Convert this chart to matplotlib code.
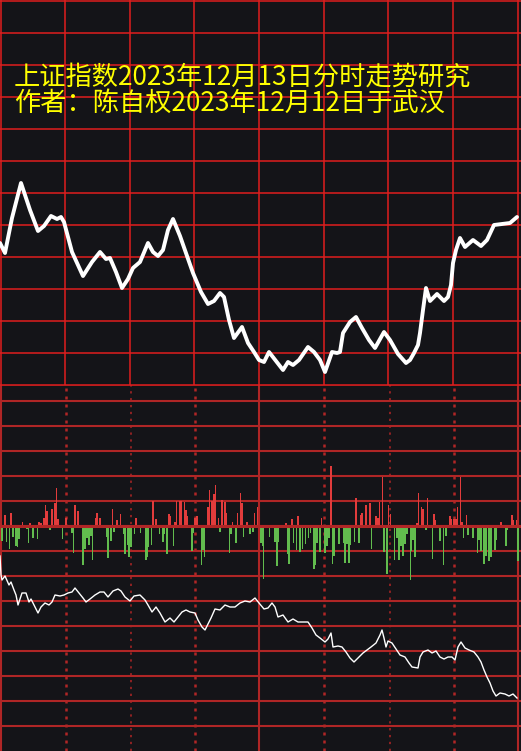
import matplotlib
matplotlib.use("Agg")
import matplotlib.pyplot as plt
import numpy as np

# values (x = time position, y = screen height units, top-down)
TITLE_1 = "上证指数2023年12月13日分时走势研究"
TITLE_2 = "作者：陈自权2023年12月12日于武汉"

PRICE_X = [0, 5, 12, 21, 30, 38, 44, 51, 57, 61, 64, 72, 83, 92, 100, 106, 110, 116,
           122, 128, 133, 140, 148, 153, 158, 163, 168, 173, 180, 193, 201, 208, 214,
           220, 224, 229, 234, 242, 248, 254, 259, 264, 269, 276, 283, 288, 293, 299,
           308, 314, 320, 325, 332, 337, 340, 343, 350, 356, 362, 369, 375, 384, 390,
           398, 406, 410, 414, 418, 420, 423, 426, 430, 437, 444, 448, 451, 453, 456,
           460, 465, 473, 481, 487, 494, 502, 510, 517]
PRICE_Y = [243, 253, 218, 183, 210, 231, 226, 216, 219, 217, 222, 252, 276, 262, 252,
           259, 258, 272, 288, 279, 268, 262, 243, 252, 256, 250, 230, 219, 236, 273,
           292, 304, 301, 293, 297, 320, 338, 327, 343, 352, 360, 362, 352, 361, 370,
           362, 365, 360, 347, 352, 360, 372, 352, 353, 352, 333, 322, 317, 328, 340,
           348, 332, 340, 354, 363, 360, 353, 345, 333, 310, 288, 301, 294, 301, 297,
           285, 263, 250, 238, 247, 240, 246, 240, 225, 224, 223, 217]

UP_X = [5, 11, 22.5, 30, 39, 41, 44, 45.5, 47, 52, 55, 56.5, 58, 66, 75, 78, 96, 97,
        100, 112.5, 117, 120.5, 136, 153, 156, 169, 170.5, 175, 176.5, 180, 181.5,
        184.5, 186, 187, 195, 197, 208, 209.5, 212, 214, 215.5, 218.5, 222, 225, 226.5,
        232.5, 237.5, 240.5, 242, 247, 254.5, 257.5, 286, 292, 298, 321.5, 331, 356,
        361, 362, 366, 370, 376, 378, 379.5, 382.5, 388.5, 390.5, 417, 418.5, 421.5,
        423, 427.5, 434, 435, 450, 451, 454, 456, 457.5, 460.5, 462, 466.5, 501, 512,
        513.5, 516.5]
UP_V = [10, 12, 3, 2, 3, 2, 7, 20, 14, 16, 22, 37, 6, 7, 20, 14, 7, 12, 7, 16, 5, 11,
        7, 24, 6, 11, 9, 3, 24, 24, 24, 23, 15, 9, 7, 9, 18, 35, 24, 31, 40, 7, 25, 23,
        12, 3, 12, 32, 22, 3, 12, 18, 2, 6, 9, 7, 59, 27, 10, 12, 20, 22, 9, 7, 23, 48,
        20, 11, 2, 32, 18, 16, 27, 11, 5, 9, 6, 6, 6, 18, 48, 3, 10, 3, 10, 5, 5]

DOWN_X = [2, 6.5, 9.5, 13, 16, 17.5, 19, 27, 28.5, 33, 37.5, 50, 62.5, 72, 73.5, 83,
          85, 87, 89, 91, 92.5, 107, 108, 111, 114, 124, 125, 128, 129, 131, 134.5,
          140.5, 146, 147, 148, 151.5, 159.5, 163, 164, 167, 173.5, 192, 193.5, 201.5,
          203, 204.5, 220, 229.5, 231, 236, 243.5, 250, 253, 261, 263, 263.5, 269.5,
          275, 277, 278.5, 288, 289, 293.5, 296.5, 300, 302.5, 305.5, 308.5, 310.5, 314,
          315.5, 317, 320, 325, 327, 329, 332.5, 334, 339, 344, 345, 347, 349, 350.5,
          354.5, 359, 371.5, 384, 387, 394.5, 397, 399, 401, 403, 405, 407, 410.5, 411,
          413, 415, 426, 432.5, 440, 443.5, 446, 463.5, 468, 473, 477.5, 479, 481, 484,
          486, 489, 491, 495, 496, 506, 507, 518]
DOWN_V = [14, 15, 22, 10, 19, 20, 12, 2, 16, 11, 12, 3, 12, 6, 26, 38, 22, 11, 18, 9,
          33, 10, 31, 14, 5, 7, 27, 18, 30, 20, 7, 6, 33, 30, 20, 18, 7, 15, 7, 27, 19,
          24, 6, 38, 23, 30, 5, 26, 7, 16, 10, 7, 5, 16, 19, 52, 10, 15, 39, 15, 27, 37,
          16, 23, 25, 22, 17, 11, 6, 42, 38, 16, 25, 26, 19, 11, 37, 29, 17, 16, 36, 17,
          36, 18, 15, 16, 22, 25, 47, 33, 11, 33, 19, 29, 17, 7, 53, 24, 13, 30, 3, 32,
          14, 38, 9, 11, 8, 11, 26, 13, 24, 37, 29, 34, 30, 23, 13, 19, 3, 34]

LINE_X = [0, 1, 2, 5, 9, 11, 14, 16, 18, 22, 26, 29, 31, 35, 38, 41, 45, 49, 52, 55,
          60, 64, 68, 72, 75, 79, 83, 86, 90, 95, 100, 104, 108, 113, 118, 121, 125,
          130, 134, 140, 145, 148, 152, 156, 160, 165, 170, 174, 178, 182, 186, 190,
          195, 198, 202, 205, 208, 211, 215, 220, 225, 230, 235, 240, 245, 250, 255,
          259, 264, 268, 272, 275, 278, 283, 288, 293, 298, 303, 308, 312, 316, 320,
          325, 328, 331, 333, 338, 342, 346, 350, 354, 358, 363, 367, 371, 376, 380,
          382, 384, 386, 388, 392, 396, 400, 405, 409, 412, 418, 420, 423, 428, 432,
          436, 440, 444, 448, 452, 455, 458, 461, 465, 469, 474, 478, 481, 484, 487,
          490, 493, 496, 500, 505, 509, 513, 517]
LINE_Y = [556, 575, 580, 576, 585, 582, 590, 595, 605, 593, 593, 602, 599, 607, 613,
          607, 603, 605, 602, 595, 596, 595, 593, 592, 588, 593, 598, 602, 599, 595,
          592, 592, 597, 591, 589, 591, 597, 601, 596, 595, 600, 605, 612, 607, 613,
          622, 618, 622, 617, 612, 610, 612, 613, 620, 627, 630, 624, 618, 609, 610,
          605, 607, 607, 603, 601, 602, 598, 603, 609, 608, 603, 607, 617, 615, 622,
          619, 622, 622, 622, 628, 635, 638, 642, 639, 633, 647, 646, 647, 652, 658,
          662, 658, 653, 650, 647, 643, 635, 630, 638, 647, 641, 643, 649, 655, 657,
          663, 667, 668, 657, 652, 650, 653, 651, 657, 659, 657, 657, 660, 647, 642,
          648, 650, 652, 657, 662, 670, 677, 683, 691, 696, 693, 694, 696, 694, 698]

TOP_BG = "#201a1a"
BOT_BG = "#141418"
GRID_TOP = "#e01e1e"
GRID_BOT = "#b02626"
RED = "#e23c3c"
GREEN = "#62bc4e"

fig = plt.figure(figsize=(5.21, 7.51), dpi=100, facecolor=BOT_BG)

# upper panel: smoothed price curve
ax1 = fig.add_axes([0, 1 - 385 / 751, 1, 385 / 751])
ax1.set_facecolor(TOP_BG)
ax1.set_xlim(0, 521)
ax1.set_ylim(385, 0)
for y in np.arange(0, 385, 32):
    ax1.axhline(y + 0.5, color=GRID_TOP, lw=1.1, zorder=1)
for x in np.linspace(0.5, 517.5, 9):
    ax1.axvline(x, color=GRID_TOP, lw=1.1, zorder=1)
ax1.plot(PRICE_X, PRICE_Y, color="white", lw=2.8, solid_joinstyle="round",
         solid_capstyle="round", zorder=3)
ax1.axis("off")

# lower panel: volume bars and thin line
ax2 = fig.add_axes([0, 0, 1, 366 / 751])
ax2.set_facecolor(BOT_BG)
ax2.set_xlim(0, 521)
ax2.set_ylim(751, 385)
ax2.bar(UP_X, -np.array(UP_V), bottom=525, width=1.8, color=RED, lw=0, zorder=2)
ax2.bar(DOWN_X, DOWN_V, bottom=527, width=1.8, color=GREEN, lw=0, zorder=2)
for y in np.arange(401, 727, 25):
    ax2.axhline(y, color=GRID_BOT, lw=1.5, zorder=1)
ax2.axhline(526, color=GRID_BOT, lw=2.2, zorder=3)
ax2.axhline(385, color=GRID_TOP, lw=1.2, zorder=3)
for x in [0.8, 258.5, 518.2]:
    ax2.axvline(x, color=GRID_BOT, lw=1.5, zorder=1)
for x in [65.5, 195, 324, 454]:
    ax2.axvline(x, color=GRID_BOT, lw=1.8, ls=(0, (1.2, 2.0)), zorder=1)
for x in [131, 390]:
    ax2.axvline(x, color=GRID_BOT, lw=1.1, ls=(0, (1.5, 3.0)), zorder=1)
ax2.plot(LINE_X, LINE_Y, color="white", lw=1.0, zorder=4)
ax2.axis("off")

font = ["Noto Sans CJK SC", "DejaVu Sans"]
fig.text(14 / 521, 1 - 77 / 751, TITLE_1, color="#ffff00", fontsize=18.9,
         family=font, va="center", ha="left")
fig.text(14 / 521, 1 - 103 / 751, TITLE_2, color="#ffff00", fontsize=18.9,
         family=font, va="center", ha="left")

fig.savefig("out.png", dpi=100, facecolor=BOT_BG)
